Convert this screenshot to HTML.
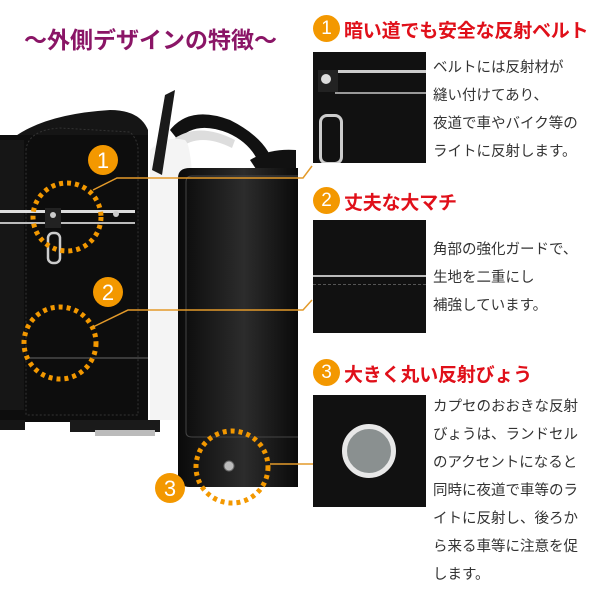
<!DOCTYPE html>
<html><head><meta charset="utf-8"><style>
body{margin:0;width:600px;height:600px;background:#fff;position:relative;overflow:hidden;font-family:"Liberation Sans","Noto Sans CJK JP",sans-serif}
.t{position:absolute;white-space:nowrap}
.h{font-weight:bold;color:#e0101a;font-size:19px;left:344px;letter-spacing:-0.2px}
.n{position:absolute;left:313px;width:27px;height:27px;border-radius:50%;background:#f39800;color:#fff;font-size:19px;text-align:center;line-height:27px}
.p{position:absolute;left:433px;font-size:14.5px;color:#333;line-height:28px}
.ph{position:absolute;left:313px;width:113px;background:#111;overflow:hidden}
</style></head><body>
<svg width="600" height="600" style="position:absolute;left:0;top:0">
<defs><linearGradient id="g" x1="0" x2="1"><stop offset="0" stop-color="#0a0a0a"/><stop offset=".55" stop-color="#2c2c2c"/><stop offset="1" stop-color="#0a0a0a"/></linearGradient></defs>
<path d="M170 130 Q190 105 230 120 Q270 140 275 170 L262 172 Q255 145 228 133 Q195 120 178 140Z" fill="#111"/>
<path d="M175 138 Q200 122 235 140 L232 148 Q200 132 180 148Z" fill="#ddd"/>
<path d="M150 150 Q165 135 185 140 Q200 150 190 420 L150 420Z" fill="#f4f4f4"/>
<path d="M250 160 Q270 148 296 150 L296 168 L258 172Z" fill="#111"/>
<path d="M165 95 L175 90 L162 175 L152 170Z" fill="#1a1a1a"/>
<path d="M0 150 Q30 115 110 110 Q140 110 148 130 L148 200 L0 200Z" fill="#151515"/>
<rect x="0" y="135" width="148" height="287" fill="#0d0d0d"/>
<rect x="0" y="140" width="24" height="270" fill="#161616"/>
<path d="M26 150 Q28 130 60 128 L130 132 Q138 140 138 150 L138 415 L26 415Z" fill="none" stroke="#333" stroke-dasharray="2 2"/>
<rect x="0" y="210" width="135" height="3" fill="#ddd"/>
<rect x="0" y="222" width="135" height="2" fill="#bbb"/>
<rect x="45" y="208" width="16" height="20" fill="#222"/>
<circle cx="53" cy="215" r="3" fill="#ccc"/><circle cx="116" cy="214" r="3" fill="#ccc"/>
<rect x="48" y="233" width="12" height="30" fill="none" stroke="#ccc" stroke-width="2.5" rx="5"/>
<rect x="30" y="357" width="118" height="2" fill="#3a3a3a"/>
<rect x="0" y="420" width="25" height="10" fill="#151515"/>
<rect x="70" y="420" width="90" height="12" fill="#1a1a1a"/>
<rect x="95" y="430" width="60" height="6" fill="#bbb"/>
<path d="M178 178 Q178 168 190 168 L298 168 L298 487 L190 487 Q178 487 178 475Z" fill="url(#g)"/>
<path d="M298 176 L192 176 Q186 176 186 182 L186 432 Q186 437 192 437 L298 437" fill="none" stroke="#444"/>
<circle cx="229" cy="466" r="5" fill="#bbb" stroke="#666"/>
<g fill="none" stroke="#f39800" stroke-width="5" stroke-dasharray="4 4">
<circle cx="67" cy="217" r="34"/><circle cx="60" cy="343" r="36"/><circle cx="232" cy="467" r="36"/></g>
<g fill="none" stroke="#e39a2a" stroke-width="1.5">
<path d="M93 190 L117 178 L303 178 L312 166"/>
<path d="M93 327 L128 310 L303 310 L312 300"/>
<path d="M270 464 L327 464"/></g>
<g fill="#f39800"><circle cx="103" cy="160" r="15"/><circle cx="108" cy="292" r="15"/><circle cx="170" cy="488" r="15"/></g>
<g fill="#fff" font-size="22" text-anchor="middle" font-family="Liberation Sans"><text x="103" y="168">1</text><text x="108" y="300">2</text><text x="170" y="496">3</text></g>
</svg>
<div class="t" style="left:24px;top:21px;font-size:23px;font-weight:bold;color:#8a1566">～外側デザインの特徴～</div>
<div class="n" style="top:15px">1</div><div class="t h" style="top:16px">暗い道でも安全な反射ベルト</div>
<div class="ph" style="top:52px;height:111px"><div style="position:absolute;left:22px;top:18px;width:91px;height:3px;background:#ccc"></div><div style="position:absolute;left:22px;top:40px;width:91px;height:2px;background:#999"></div><div style="position:absolute;left:5px;top:18px;width:20px;height:22px;background:#222"></div><div style="position:absolute;left:8px;top:22px;width:10px;height:10px;border-radius:50%;background:#ddd"></div><div style="position:absolute;left:6px;top:62px;width:18px;height:45px;border:3px solid #ccc;border-radius:8px"></div></div>
<div class="p" style="top:54px">ベルトには反射材が<br>縫い付けてあり、<br>夜道で車やバイク等の<br>ライトに反射します。</div>
<div class="n" style="top:187px">2</div><div class="t h" style="top:188px">丈夫な大マチ</div>
<div class="ph" style="top:220px;height:113px"><div style="position:absolute;left:0;top:55px;width:113px;height:2px;background:#bbb"></div><div style="position:absolute;left:0;top:64px;width:113px;border-top:1px dashed #555"></div></div>
<div class="p" style="top:236px">角部の強化ガードで、<br>生地を二重にし<br>補強しています。</div>
<div class="n" style="top:359px">3</div><div class="t h" style="top:360px">大きく丸い反射びょう</div>
<div class="ph" style="top:395px;height:112px"><div style="position:absolute;left:29px;top:29px;width:44px;height:44px;border-radius:50%;background:#8a9090;border:5px solid #e8e8e8"></div></div>
<div class="p" style="top:393px">カプセのおおきな反射<br>びょうは、ランドセル<br>のアクセントになると<br>同時に夜道で車等のラ<br>イトに反射し、後ろか<br>ら来る車等に注意を促<br>します。</div>
</body></html>
